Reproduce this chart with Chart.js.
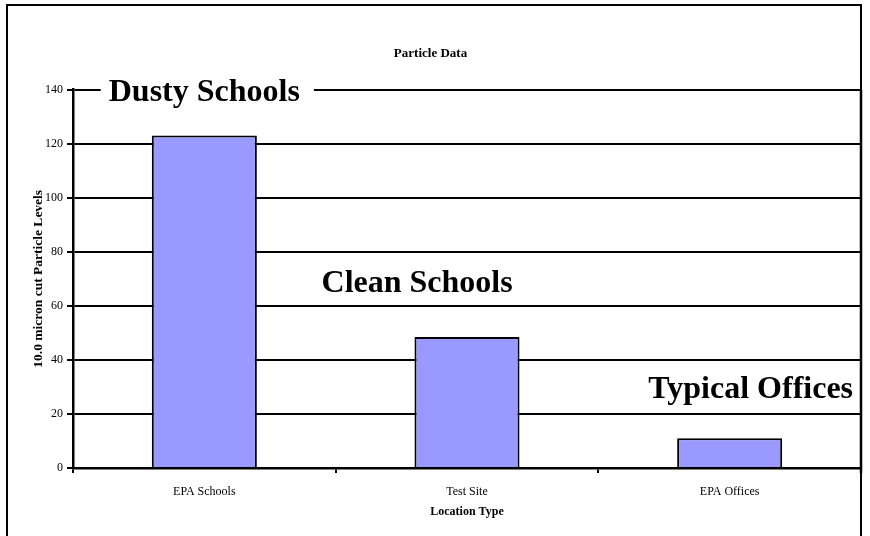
<!DOCTYPE html>
<html>
<head>
<meta charset="utf-8">
<title>Particle Data</title>
<script src="https://cdn.jsdelivr.net/npm/chart.js@4"></script>
<style>
  html, body { margin: 0; padding: 0; background: #fff; }
  #wrap { width: 870px; height: 536px; position: relative; }
</style>
</head>
<body>
<div id="wrap"><canvas id="chart-particles"></canvas></div>
<script>
// chart values
var categories = ["EPA Schools", "Test Site", "EPA Offices"];
var particleLevels = [123, 48.5, 11];
var yTickValues = [0, 20, 40, 60, 80, 100, 120, 140];
var calloutTexts = ["Dusty Schools", "Clean Schools", "Typical Offices"];

var SERIF = "'Liberation Serif', 'Times New Roman', serif";

// callouts sit on the plot at (category, value) spots, white box behind the text
var calloutPlugin = {
  id: "callouts",
  beforeDraw: function (chart) {
    var ctx = chart.ctx;
    ctx.save();
    ctx.fillStyle = "#fff";
    ctx.fillRect(0, 0, chart.width, chart.height);
    ctx.restore();
  },
  afterDraw: function (chart, args, opts) {
    var ctx = chart.ctx;
    var area = chart.chartArea;
    var x = chart.scales.x;
    var y = chart.scales.y;

    ctx.save();
    // outer frame
    ctx.strokeStyle = "#000";
    ctx.lineWidth = 2;
    ctx.strokeRect(7, 5, 854, 700);

    // plot area right edge
    ctx.lineWidth = 2.5;
    ctx.beginPath();
    ctx.moveTo(area.right, area.top);
    ctx.lineTo(area.right, area.bottom + 5);
    ctx.stroke();

    ctx.font = "bold 32px " + SERIF;
    ctx.textBaseline = "alphabetic";
    ctx.textAlign = "center";
    opts.spots.forEach(function (spot, i) {
      var text = calloutTexts[i];
      var cx = x.getPixelForValue(spot.at);
      var by = y.getPixelForValue(spot.value);
      var w = ctx.measureText(text).width;
      if (spot.box) {
        ctx.fillStyle = "#fff";
        ctx.fillRect(cx - w / 2 - 8, by - 26, w + 22, 34);
      }
      ctx.fillStyle = "#000";
      ctx.fillText(text, cx, by);
    });
    ctx.restore();
  }
};

var ctx = document.getElementById("chart-particles");
new Chart(ctx, {
  type: "bar",
  data: {
    labels: categories,
    datasets: [
      {
        label: "Particles",
        data: particleLevels,
        backgroundColor: "#9999FF",
        borderColor: "#000",
        borderWidth: 2,
        barPercentage: 0.4,
        categoryPercentage: 1.0
      }
    ]
  },
  options: {
    responsive: true,
    maintainAspectRatio: false,
    animation: false,
    layout: { padding: { left: 0, right: 9, top: 0, bottom: 0 } },
    scales: {
      x: {
        grid: {
          drawOnChartArea: false,
          drawTicks: true,
          tickLength: 5,
          color: "#000",
          lineWidth: 2
        },
        border: { color: "#000", width: 2.5 },
        ticks: {
          color: "#000",
          padding: 12,
          font: { family: SERIF, size: 12 }
        },
        title: {
          display: true,
          text: "Location Type",
          color: "#000",
          padding: { top: 17, bottom: 17 },
          font: { family: SERIF, size: 12, weight: "bold" }
        },
        afterFit: function (scale) { scale.height = 68; }
      },
      y: {
        min: 0,
        max: 140,
        afterBuildTicks: function (scale) {
          scale.ticks = yTickValues.map(function (v) { return { value: v }; });
        },
        grid: {
          color: "#000",
          lineWidth: 2,
          tickLength: 6
        },
        border: { color: "#000", width: 2.5 },
        ticks: {
          color: "#000",
          padding: 4,
          font: { family: SERIF, size: 12 }
        },
        title: {
          display: true,
          text: "10.0 micron cut Particle Levels",
          color: "#000",
          padding: { top: 30, bottom: 30 },
          font: { family: SERIF, size: 13.5, weight: "bold" }
        },
        afterFit: function (scale) { scale.width = 73; }
      }
    },
    plugins: {
      legend: { display: false },
      tooltip: { enabled: false },
      title: {
        display: true,
        text: "Particle Data",
        color: "#000",
        padding: { top: 46, bottom: 28 },
        font: { family: SERIF, size: 13, weight: "bold" }
      },
      callouts: {
        spots: [
          { at: 0, value: 135.9, box: true },
          { at: 0.81, value: 65.3, box: false },
          { at: 2.08, value: 25.9, box: false }
        ]
      }
    }
  },
  plugins: [calloutPlugin]
});
</script>
</body>
</html>
